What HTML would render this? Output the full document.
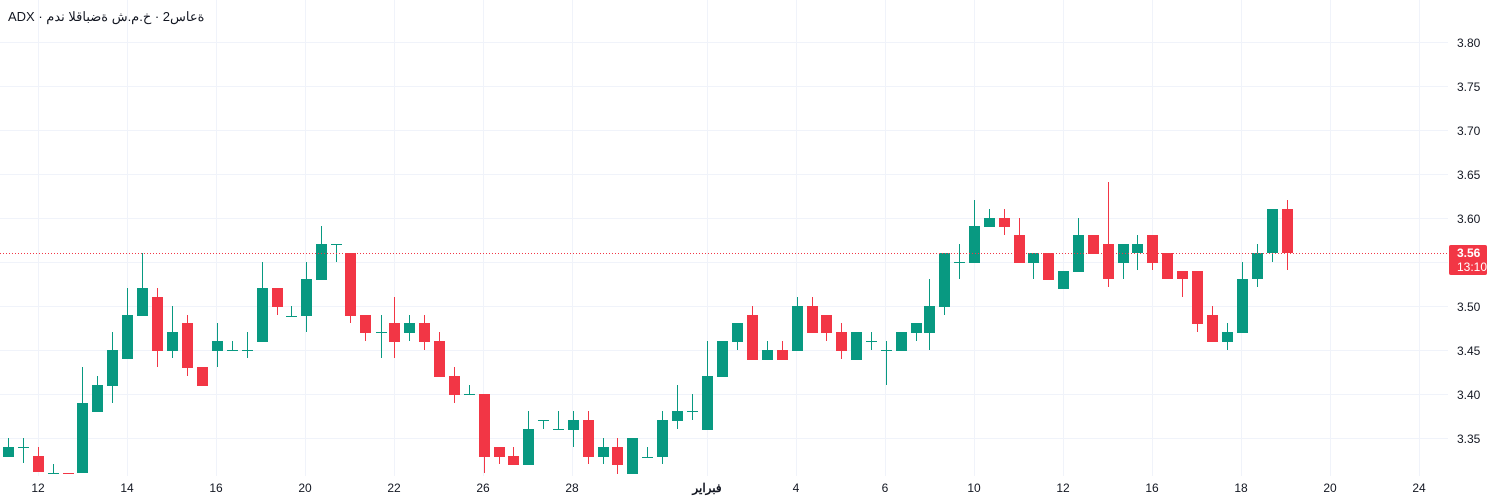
<!DOCTYPE html>
<html><head><meta charset="utf-8"><style>
html,body{margin:0;padding:0;background:#fff;width:1500px;height:502px;overflow:hidden;position:relative}
svg{display:block}
text{font-family:"Liberation Sans","Noto Sans CJK SC",sans-serif;fill:#131722}
#t{position:absolute;left:8px;top:9px;font:13px "Liberation Sans","Noto Sans CJK SC",sans-serif;color:#131722;direction:ltr;unicode-bidi:bidi-override;white-space:nowrap}
</style></head><body>
<svg id="s" width="1500" height="502" xmlns="http://www.w3.org/2000/svg">
<g stroke="#f0f3fa" stroke-width="1">
<line x1="0" x2="1448" y1="42.5" y2="42.5"/><line x1="0" x2="1448" y1="86.5" y2="86.5"/>
<line x1="0" x2="1448" y1="130.5" y2="130.5"/><line x1="0" x2="1448" y1="174.5" y2="174.5"/>
<line x1="0" x2="1448" y1="218.5" y2="218.5"/><line x1="0" x2="1448" y1="262.5" y2="262.5"/>
<line x1="0" x2="1448" y1="306.5" y2="306.5"/><line x1="0" x2="1448" y1="350.5" y2="350.5"/>
<line x1="0" x2="1448" y1="394.5" y2="394.5"/><line x1="0" x2="1448" y1="438.5" y2="438.5"/>
<line y1="0" y2="476" x1="38.5" x2="38.5"/><line y1="0" y2="476" x1="127.5" x2="127.5"/>
<line y1="0" y2="476" x1="216.5" x2="216.5"/><line y1="0" y2="476" x1="305.5" x2="305.5"/>
<line y1="0" y2="476" x1="394.5" x2="394.5"/><line y1="0" y2="476" x1="483.5" x2="483.5"/>
<line y1="0" y2="476" x1="572.5" x2="572.5"/><line y1="0" y2="476" x1="707.5" x2="707.5"/>
<line y1="0" y2="476" x1="796.5" x2="796.5"/><line y1="0" y2="476" x1="885.5" x2="885.5"/>
<line y1="0" y2="476" x1="974.5" x2="974.5"/><line y1="0" y2="476" x1="1063.5" x2="1063.5"/>
<line y1="0" y2="476" x1="1152.5" x2="1152.5"/><line y1="0" y2="476" x1="1241.5" x2="1241.5"/>
<line y1="0" y2="476" x1="1330.5" x2="1330.5"/><line y1="0" y2="476" x1="1419.5" x2="1419.5"/>
</g>
<g id="c"></g>
<line x1="0" x2="1448" y1="253.5" y2="253.5" stroke="#f23645" stroke-width="1" stroke-dasharray="1,2"/>
<g font-size="12" text-anchor="start">
<text x="1457" y="47">3.80</text><text x="1457" y="91">3.75</text><text x="1457" y="135">3.70</text>
<text x="1457" y="179">3.65</text><text x="1457" y="223">3.60</text><text x="1457" y="311">3.50</text>
<text x="1457" y="355">3.45</text><text x="1457" y="399">3.40</text><text x="1457" y="443">3.35</text>
</g>
<rect x="1449" y="245" width="38" height="30" rx="2" fill="#f23645"/>
<text x="1457" y="257" font-size="12" font-weight="bold" style="fill:#fff">3.56</text>
<text x="1457" y="271" font-size="12" style="fill:#fff">13:10</text>
<g font-size="12" text-anchor="middle">
<text x="38" y="492">12</text><text x="127" y="492">14</text><text x="216" y="492">16</text>
<text x="305" y="492">20</text><text x="394" y="492">22</text><text x="483" y="492">26</text>
<text x="572" y="492">28</text><text x="707" y="492" font-weight="bold">فبراير</text>
<text x="796" y="492">4</text><text x="885" y="492">6</text><text x="974" y="492">10</text>
<text x="1063" y="492">12</text><text x="1152" y="492">16</text><text x="1241" y="492">18</text>
<text x="1330" y="492">20</text><text x="1419" y="492">24</text>
</g>
</svg>
<div id="t">ADX · مدن القابضة ش.م.خ · 2ساعة</div>
<script>
var G="#089981",R="#f23645";
var d=[[8,G,447,457,438,457],[23,G,447,447,438,463],[38,R,456,472,447,472],[53,G,473,473,464,473],[68,R,473,473,473,473],
[82,G,403,473,367,473],[97,G,385,412,376,412],[112,G,350,386,332,403],[127,G,315,359,288,359],[142,G,288,316,253,316],
[157,R,297,351,288,367],[172,G,332,351,306,358],[187,R,323,368,315,376],[202,R,367,386,367,386],[217,G,341,351,323,367],
[232,G,350,350,341,350],[247,G,350,350,332,358],[262,G,288,342,262,342],[277,R,288,307,288,315],[291,G,316,316,306,316],
[306,G,279,316,262,332],[321,G,244,280,226,280],[336,G,244,244,244,262],[350,R,253,316,253,323],[365,R,315,333,315,341],
[381,G,332,332,315,358],[394,R,323,342,297,358],[409,G,323,333,315,341],[424,R,323,342,315,350],[439,R,341,377,332,377],
[454,R,376,395,367,403],[469,G,394,394,385,394],[484,R,394,457,394,473],[499,R,447,457,447,464],[513,R,456,465,447,465],
[528,G,429,465,411,465],[543,G,420,420,420,429],[558,G,429,429,411,429],[573,G,420,430,411,447],[588,R,420,457,411,464],
[603,G,447,457,438,464],[617,R,447,465,438,474],[632,G,438,474,438,474],[647,G,457,457,447,457],[662,G,420,457,411,464],
[677,G,411,421,385,429],[692,G,411,411,394,420],[707,G,376,430,341,430],[722,G,341,377,341,377],[737,G,323,342,323,350],
[752,R,315,360,306,360],[767,G,350,360,341,360],[782,R,350,360,341,360],[797,G,306,351,297,351],[812,R,306,333,297,333],
[826,R,315,333,315,341],[841,R,332,351,323,359],[856,G,332,360,332,360],[871,G,341,341,332,350],[886,G,350,350,341,385],
[901,G,332,351,332,351],[916,G,323,333,323,341],[929,G,306,333,279,350],[944,G,253,307,253,315],[959,G,262,262,244,279],
[974,G,226,263,200,263],[989,G,218,227,209,227],[1004,R,218,227,209,235],[1019,R,235,263,218,263],[1033,G,253,263,253,279],
[1048,R,253,280,253,280],[1063,G,271,289,271,289],[1078,G,235,272,218,272],[1093,R,235,254,235,254],[1108,R,244,279,182,287],
[1123,G,244,263,244,279],[1137,G,244,253,235,270],[1152,R,235,263,235,270],[1167,R,253,279,253,279],[1182,R,271,279,271,297],
[1197,R,271,324,271,332],[1212,R,315,342,306,342],[1227,G,332,342,323,350],[1242,G,279,333,262,333],[1257,G,253,279,244,287],
[1272,G,209,253,209,262],[1287,R,209,253,200,270]];
var h="";
d.forEach(function(c){var x=c[0],col=c[1],t=c[2],b=c[3],hi=c[4],lo=c[5];
h+='<rect x="'+x+'" y="'+hi+'" width="1" height="'+Math.max(1,lo-hi)+'" fill="'+col+'"/>';
var bh=Math.max(1,b-t);h+='<rect x="'+(x-5)+'" y="'+t+'" width="11" height="'+bh+'" fill="'+col+'"/>';});
document.getElementById("c").innerHTML=h;
</script>
</body></html>
